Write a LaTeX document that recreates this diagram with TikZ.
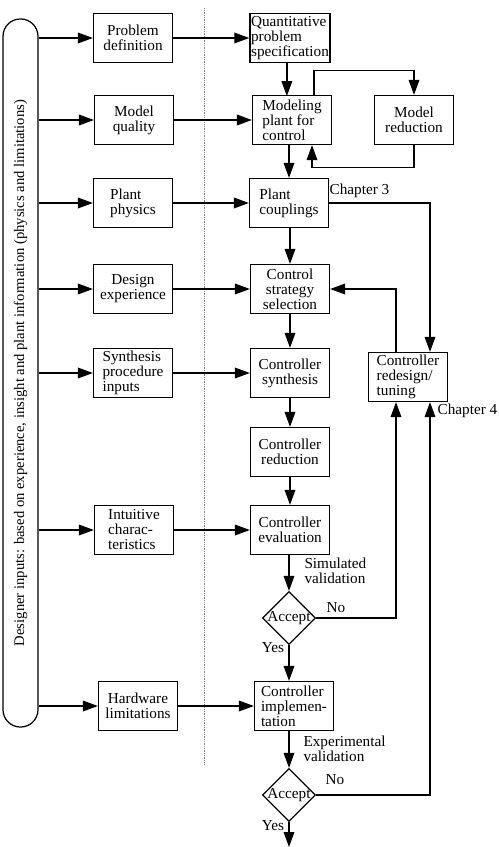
\documentclass[tikz,border=0pt]{standalone}
\usepackage{fontspec}
\setmainfont{Liberation Serif}
\usetikzlibrary{arrows.meta,shapes.geometric}

\begin{document}
\begin{tikzpicture}[x=0.03cm, y=-0.03cm, line width=1.05pt,
		font=\fontsize{13}{12.8}\selectfont,
		blk/.style={draw, minimum width=2.37cm, minimum height=1.47cm, inner sep=1pt, align=center},
		blkl/.style={blk, align=left},
		dec/.style={draw, diamond, inner sep=0pt, minimum size=1.59cm},
		arr/.style={-{Triangle[length=4.5mm,width=3.2mm]}}]
			\useasboundingbox (0,0) rectangle (498,847);
			
			\node[draw, rotate=90, rounded corners=0.52cm, minimum width=21.24cm, minimum height=1.05cm, inner sep=0pt, font=\fontsize{12.5}{14}\selectfont] (bar) at (20.5,373) {Designer inputs: based on experience, insight and plant information (physics and limitations)};
			\draw[gray, densely dotted, line width=0.5pt] (204,8)--(204,765);
			
			\node[blk] (pdef) at (133,38) {Problem\\definition};
			\node[blk] (mq) at (134,120) {Model\\quality};
			\node[blkl] (pp) at (133,203) {Plant\\physics};
			\node[blk] (de) at (133,289) {Design\\experience};
			\node[blkl] (spi) at (133,373) {Synthesis\\procedure\\inputs};
			\node[blkl] (ic) at (134,530) {Intuitive\\charac-\\teristics};
			\node[blk] (hl) at (138,706) {Hardware\\limitations};
			
			\node[blkl] (qps) at (290,38) {Quantitative\\problem\\specification};
			\node[blkl] (mpc) at (292,120) {Modeling\\plant for\\control};
			\node[blk] (mr) at (414,120) {Model\\reduction};
			\node[blkl] (pc) at (289,203) {Plant\\couplings};
			\node[blk] (css) at (290,289) {Control\\strategy\\selection};
			\node[blk] (cs) at (290,373) {Controller\\synthesis};
			\node[blk] (cr) at (290,452) {Controller\\reduction};
			\node[blk] (ce) at (290,530) {Controller\\evaluation};
			\node[blkl] (rd) at (408,377) {Controller\\redesign/\\tuning};
			\node[dec] (d1) at (289,618) {\makebox[0pt]{Accept}};
			\node[blkl] (cimp) at (294,706) {Controller\\implemen-\\tation};
			\node[dec] (d2) at (289,795) {\makebox[0pt]{Accept}};
			\coordinate (end) at (289,847);
			
			\node[anchor=west, inner sep=0pt] (ch3) at (329,191) {Chapter 3};
			\node[anchor=west, inner sep=0pt] (ch4) at (437,411) {Chapter 4};
			\node[anchor=west, align=left] (sim) at (300,571) {Simulated\\validation};
			\node[anchor=west, align=left] (exp) at (299,749) {Experimental\\validation};
			\node (no1) at (336,608) {No};
			\node (no2) at (335,780) {No};
			\node (yes1) at (273,648) {Yes};
			\node (yes2) at (273,826) {Yes};
			
			\foreach \b in {pdef,mq,pp,de,spi,ic,hl}
				\draw[arr] (bar.south |- \b) -- (\b);
			\draw[arr] (pdef) -- (qps);
			\draw[arr] (mq) -- (mpc);
			\draw[arr] (pp) -- (pc);
			\draw[arr] (de) -- (css);
			\draw[arr] (spi) -- (cs);
			\draw[arr] (ic) -- (ce);
			\draw[arr] (hl) -- (cimp);
			
			\draw[arr] (qps.south -| mpc.south west) ++(1.05cm,0) -- ++(0,33);
			\draw[arr] ([xshift=0.66cm]mpc.north) -- ++(0,-24) -| (mr.north);
			\draw[arr] (mr.south) -- ++(0,22) -| ([xshift=0.6cm]mpc.south);
			\draw[arr] ([xshift=-0.09cm]mpc.south) -- ([xshift=-0.09cm]mpc.south |- pc.north);
			\draw[arr] (pc.east) -| ([xshift=0.66cm]rd.north);
			\draw[arr] ([xshift=-0.36cm]rd.north) |- (css.east);
			\draw[arr] (pc.south -| css.north) -- (css.north);
			\draw[arr] (css) -- (cs);
			\draw[arr] (cs) -- (cr);
			\draw[arr] (cr) -- (ce);
			\draw[arr] (ce.south -| d1.north) -- (d1.north);
			\draw[arr] (d1.east) -| ([xshift=-0.36cm]rd.south);
			\draw[arr] (d1.south) -- (d1.south |- cimp.north);
			\draw[arr] (d2.north |- cimp.south) -- (d2.north);
			\draw[arr] (d2.east) -| ([xshift=0.66cm]rd.south);
			\draw[arr] (d2.south) -- (end);
		\end{tikzpicture}
\end{document}
